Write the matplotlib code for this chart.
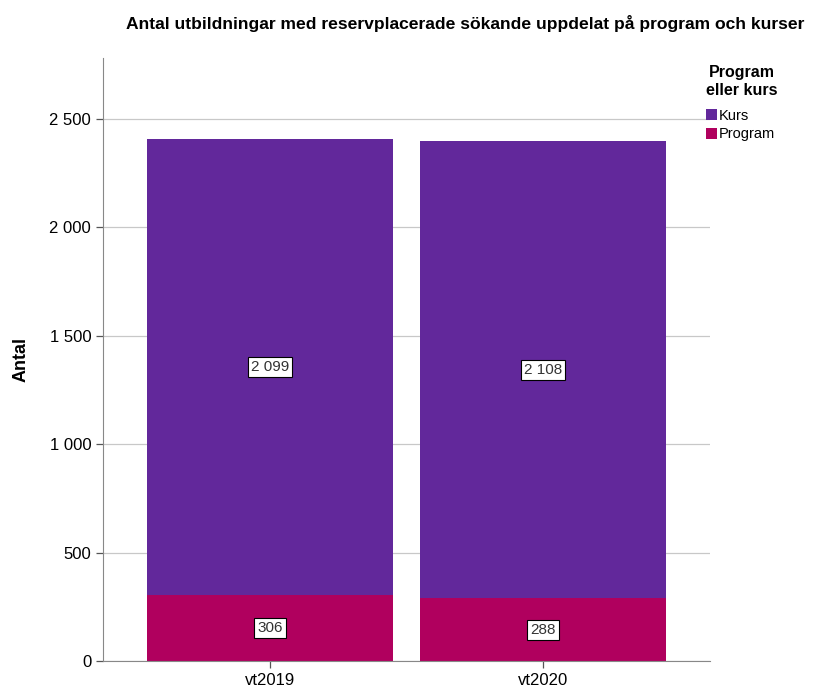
import matplotlib.pyplot as plt
import numpy as np

plt.rcParams['font.family'] = ['Liberation Sans', 'DejaVu Sans']

terms = ['vt2019', 'vt2020']
program = [306, 288]
kurs = [2099, 2108]
series_names = ['Kurs', 'Program']
colors = {'Kurs': '#62289b', 'Program': '#b0005e'}
y_ticks = [0, 500, 1000, 1500, 2000, 2500]


def fmt(v):
    return f"{v:,}".replace(',', ' ')


fig = plt.figure(figsize=(8.13, 6.97), dpi=100)
ax = fig.add_axes([0.1267, 0.0517, 0.7466, 0.8651])

x = np.arange(len(terms))
width = 0.9
bars_p = ax.bar(x, program, width, color=colors['Program'], label='Program', zorder=2)
bars_k = ax.bar(x, kurs, width, bottom=program, color=colors['Kurs'], label='Kurs', zorder=2)

box = dict(boxstyle='square,pad=0.2', facecolor='white', edgecolor='black', linewidth=0.8)
for i in range(len(terms)):
    ax.text(x[i], program[i] / 2, fmt(program[i]), ha='center', va='center',
            fontsize=11, color='#333333', bbox=box, zorder=3)
    ax.text(x[i], program[i] + kurs[i] / 2, fmt(kurs[i]), ha='center', va='center',
            fontsize=11, color='#333333', bbox=box, zorder=3)

ax.set_xlim(-0.61, 1.61)
ax.set_ylim(0, 2780)
ax.set_xticks(x)
ax.set_xticklabels(terms, fontsize=12)
ax.set_yticks(y_ticks)
ax.set_yticklabels([fmt(v) for v in y_ticks], fontsize=12)
ax.yaxis.grid(True, color='#c8c8c8', linewidth=0.9, zorder=0)
ax.set_axisbelow(True)
for side in ['top', 'right']:
    ax.spines[side].set_visible(False)
for side in ['left', 'bottom']:
    ax.spines[side].set_color('#888888')
ax.tick_params(axis='both', color='#555555', length=5, width=0.9)
ax.set_ylabel('Antal', fontsize=13, fontweight='bold', labelpad=14)

fig.text(0.572, 0.967, 'Antal utbildningar med reservplacerade sökande uppdelat på program och kurser',
         ha='center', va='center', fontsize=12.6, fontweight='bold')

handles = [bars_k, bars_p]
leg = fig.legend(handles, series_names, loc='upper left', bbox_to_anchor=(0.852, 0.925),
                 title='Program\neller kurs', frameon=False, fontsize=10.5,
                 handlelength=0.8, handleheight=0.8, handletextpad=0.1, labelspacing=0.3)
leg.get_title().set_fontweight('bold')
leg.get_title().set_fontsize(11.5)
leg.get_title().set_multialignment('center')
leg._legend_box.align = 'left'
leg._legend_box.sep = 8

fig.savefig('out.png', dpi=100)
